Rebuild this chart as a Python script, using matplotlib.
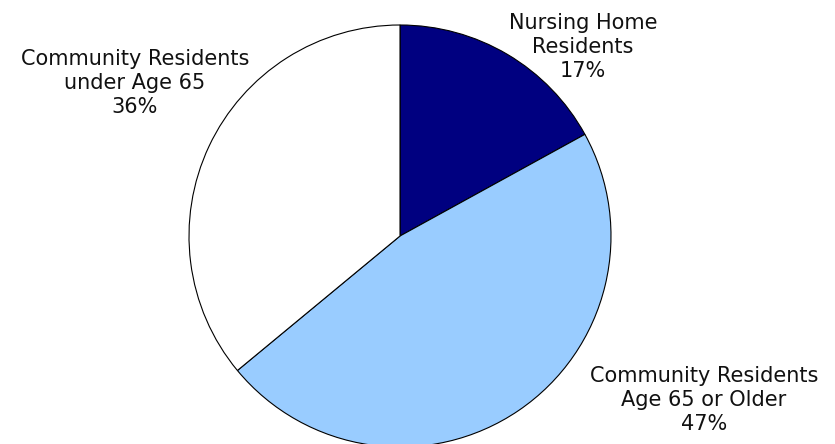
import matplotlib.pyplot as plt

# slice data, clockwise from 12 o'clock
labels = ["Nursing Home\nResidents", "Community Residents\nAge 65 or Older", "Community Residents\nunder Age 65"]
shares = [17, 47, 36]
colors = ["#000080", "#99CCFF", "#FFFFFF"]

# label anchor points in pixel space (x from left, y from top)
label_pos = [(583, 47), (704, 400), (135, 83)]

W, H = 835, 444
fig = plt.figure(figsize=(W / 100, H / 100), dpi=100)
ax = fig.add_axes([0, 0, 1, 1])

ax.pie(shares, colors=colors, startangle=90, counterclock=False,
       center=(400, H - 236), radius=211, frame=True,
       wedgeprops=dict(edgecolor="black", linewidth=0.8))
ax.set_xlim(0, W)
ax.set_ylim(0, H)
ax.set_aspect("equal")
ax.axis("off")

for lab, val, (x, y) in zip(labels, shares, label_pos):
    ax.text(x, H - y, "%s\n%d%%" % (lab, val), ha="center", va="center",
            fontsize=15, family="DejaVu Sans", linespacing=1.25, color="#111111")

fig.savefig("out.png", dpi=100)
